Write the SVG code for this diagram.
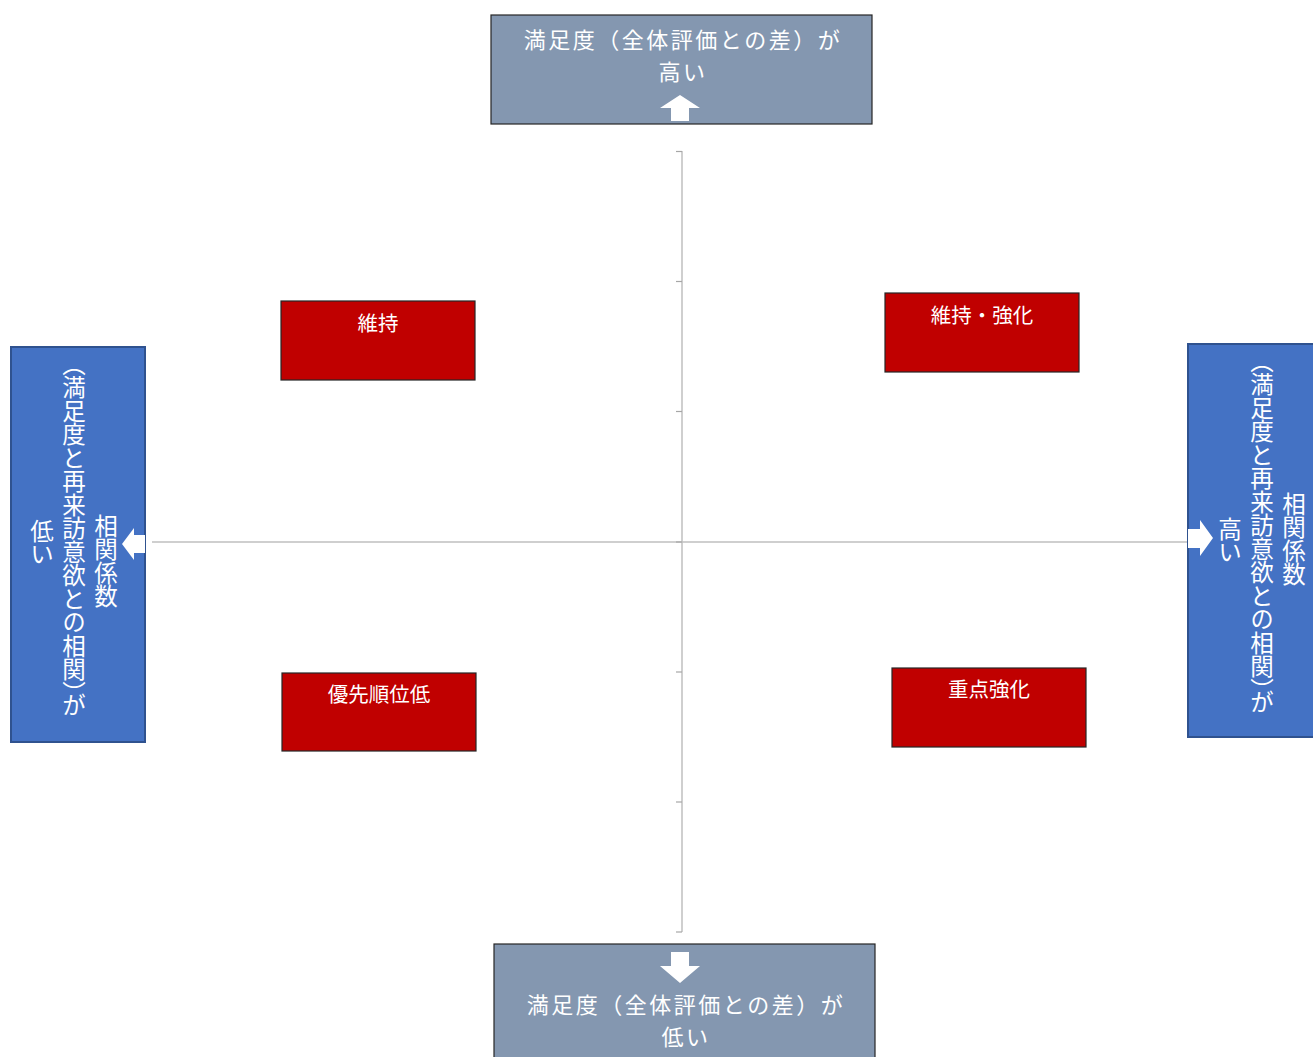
<svg xmlns="http://www.w3.org/2000/svg" width="1313" height="1057" viewBox="0 0 1313 1057">
<style>
.t{font-family:"Noto Sans CJK JP","Noto Sans CJK SC",sans-serif;fill:#fff;}
.h{font-size:22px;letter-spacing:2.5px;text-anchor:middle;}
.v{font-size:23.5px;writing-mode:vertical-rl;}
.vh{font-feature-settings:"vhal" 1;}
.r{font-size:20.5px;text-anchor:middle;}
.gray{fill:#8497B0;stroke:#262626;stroke-width:1.2;}
.blue{fill:#4472C4;stroke:#2F528F;stroke-width:2;}
.red{fill:#C00000;stroke:#262626;stroke-width:1.2;}
.ax{stroke:#BFBFBF;stroke-width:1.5;fill:none;}
.tk{stroke:#A6A6A6;stroke-width:1.2;}
</style>
<rect width="1313" height="1057" fill="#fff"/>
<g id="connectors">
<line class="ax" x1="682" y1="151" x2="682" y2="932"/>
<line class="ax" x1="152" y1="542" x2="1187" y2="542"/>
<g class="tk">
<line x1="676" y1="151.5" x2="682" y2="151.5"/>
<line x1="676" y1="281.5" x2="682" y2="281.5"/>
<line x1="676" y1="411.5" x2="682" y2="411.5"/>
<line x1="676" y1="542" x2="682" y2="542"/>
<line x1="676" y1="672" x2="682" y2="672"/>
<line x1="676" y1="802" x2="682" y2="802"/>
<line x1="676" y1="932" x2="682" y2="932"/>
</g>
</g>
<g id="top">
<rect class="gray" x="491" y="15" width="381" height="109"/>
<text class="t h" x="683" y="48">満足度（全体評価との差）が</text>
<text class="t h" x="683" y="80">高い</text>
<polygon fill="#fff" points="680,95 700,108 689,108 689,121 671,121 671,108 660,108"/>
</g>
<g id="bottom">
<rect class="gray" x="494" y="944" width="381" height="120"/>
<polygon fill="#fff" points="671,952 689,952 689,966 700,966 680,983 660,966 671,966"/>
<text class="t h" x="686" y="1013">満足度（全体評価との差）が</text>
<text class="t h" x="686" y="1045">低い</text>
</g>
<g id="left">
<rect class="blue" x="11" y="347" width="134" height="395"/>
<text class="t v" x="106" y="514">相関係数</text>
<text class="t v vh" x="74" y="364">（満足度と再来訪意欲との相関）が</text>
<text class="t v" x="42" y="519">低い</text>
<polygon fill="#fff" points="122,544 134,528 134,535 145,535 145,553 134,553 134,560"/>
</g>
<g id="right">
<rect class="blue" x="1188" y="344" width="130" height="393"/>
<text class="t v" x="1294" y="492">相関係数</text>
<text class="t v vh" x="1262" y="361">（満足度と再来訪意欲との相関）が</text>
<text class="t v" x="1230" y="517">高い</text>
<polygon fill="#fff" points="1188,529 1200,529 1200,520 1213,538 1200,556 1200,548 1188,548"/>
</g>
<g id="q1">
<rect class="red" x="281" y="301" width="194" height="79"/>
<text class="t r" x="378" y="331">維持</text>
</g>
<g id="q2">
<rect class="red" x="885" y="293" width="194" height="79"/>
<text class="t r" x="982" y="323">維持・強化</text>
</g>
<g id="q3">
<rect class="red" x="282" y="673" width="194" height="78"/>
<text class="t r" x="379" y="702">優先順位低</text>
</g>
<g id="q4">
<rect class="red" x="892" y="668" width="194" height="79"/>
<text class="t r" x="989" y="697">重点強化</text>
</g>
</svg>
